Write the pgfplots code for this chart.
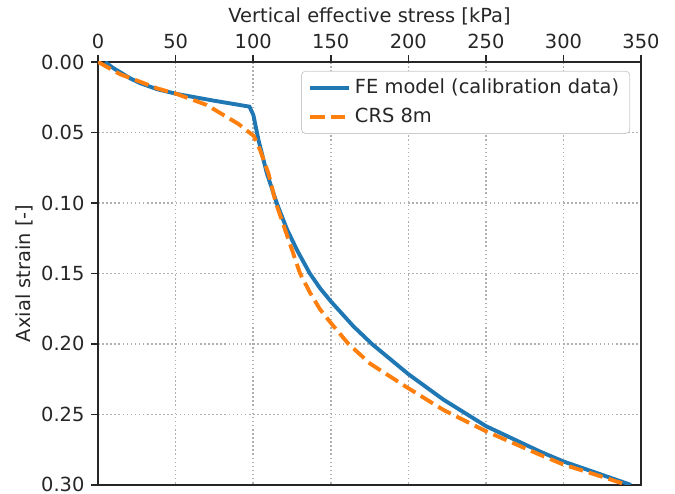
\documentclass[border=0pt]{standalone}
\usepackage{pgfplots}
\pgfplotsset{compat=1.18}
\usepackage{fontspec}
\setmainfont{DejaVu Sans}
\definecolor{mblue}{HTML}{1F77B4}
\definecolor{morange}{HTML}{FF7F0E}
\definecolor{mgrid}{HTML}{B0B0B0}
\definecolor{mtext}{HTML}{262626}
\begin{document}
\begin{tikzpicture}
\begin{axis}[
  scale only axis,
  width=279.6pt, height=217.8pt,
  xmin=0, xmax=350, ymin=0, ymax=0.30,
  y dir=reverse,
  xtick={0,50,...,350},
  ytick={0,0.05,...,0.30},
  xticklabel pos=upper,
  xtick pos=upper,
  ytick pos=left,
  tick align=outside,
  major tick length=3.5pt,
  every tick/.style={mtext, line width=0.8pt},
  axis line style={mtext, line width=0.8pt},
  grid=major,
  major grid style={mgrid, line width=0.8pt, dash pattern=on 0.8pt off 1.3pt},
  /pgf/number format/assume math mode=true,
  yticklabel style={/pgf/number format/fixed, /pgf/number format/fixed zerofill, /pgf/number format/precision=2},
  scaled y ticks=false,
  tick label style={font=\fontsize{10}{12}\selectfont, text=mtext},
  label style={font=\fontsize{10}{12}\selectfont, text=mtext},
  xlabel={Vertical effective stress [kPa]},
  ylabel={Axial strain [-]},
  xlabel style={at={(axis description cs:0.5,1.0922)}, anchor=base},
  ylabel style={at={(axis description cs:-0.1363,0.5)}, anchor=center},
  legend cell align=left,
  legend style={at={(0.98,0.979)}, anchor=north east, draw=black!20, rounded corners=2pt,
    font=\fontsize{10}{12}\selectfont, text=mtext, row sep=2pt, inner xsep=3.5pt, inner ysep=2pt},
  legend image code/.code={\draw[#1] (0pt,0pt) -- (20pt,0pt);},
]
\addplot[mblue, line width=2pt] coordinates {
(4.5,0) (10,0.0045) (15.3,0.008) (21,0.0118) (27,0.015) (38,0.0193) (50.7,0.0227)
(74.3,0.0274) (97.6,0.0317)
(100.1,0.0376) (103.4,0.0553) (108.8,0.079) (115.2,0.1002) (121.7,0.1185)
(128.5,0.134) (136.5,0.150) (143.1,0.1605) (150.2,0.170) (164.6,0.1875)
(176.5,0.200) (200.1,0.2215) (222.6,0.2395) (250.2,0.2584) (285,0.2764)
(300,0.2834) (320,0.291) (343.5,0.300)
};
\addlegendentry{FE model (calibration data)}
\addplot[morange, line width=2pt, dash pattern=on 7.4pt off 3.2pt] coordinates {
(0,0) (14.2,0.0087) (27,0.014) (38,0.0187) (50.7,0.0227) (70,0.0305) (80.8,0.0376)
(90.5,0.0440) (100.4,0.0525) (104.4,0.0624) (109.8,0.079) (114.6,0.100)
(119,0.114) (124,0.130) (130.2,0.150) (136.8,0.164) (143.1,0.1755) (150.2,0.1853)
(161.4,0.200) (175.4,0.2140) (200.1,0.2315) (222.6,0.2468) (250.2,0.262)
(285,0.2787) (300,0.2856) (320,0.2925) (341,0.300)
};
\addlegendentry{CRS 8m}
\end{axis}
\pgfresetboundingbox
\path (current axis.south west) ++(-50.5pt,-4.6pt) rectangle ([shift={(17.5pt,31.9pt)}]current axis.north east);
\end{tikzpicture}
\end{document}
